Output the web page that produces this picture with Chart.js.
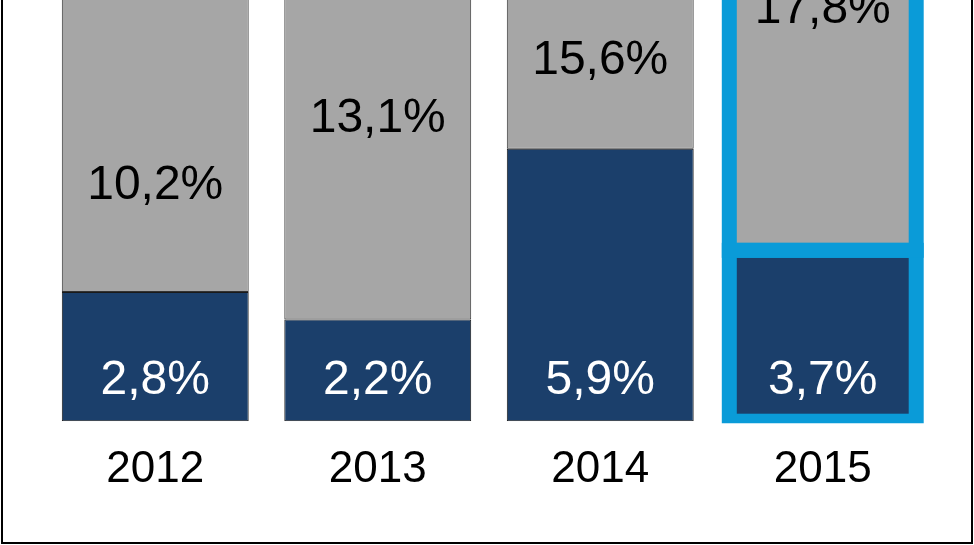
<!DOCTYPE html>
<html>
<head>
<meta charset="utf-8">
<script src="https://cdn.jsdelivr.net/npm/chart.js@4"></script>
<style>
  html, body { margin: 0; padding: 0; background: #ffffff; overflow: hidden; }
  #wrap { position: relative; width: 974px; height: 545px; }
  canvas { display: block; }
</style>
</head>
<body>
<div id="wrap"><canvas id="c" width="974" height="545"></canvas></div>
<script>
// ---- data ----
const categories = ['2012', '2013', '2014', '2015'];
const darkValues = [2.8, 2.2, 5.9, 3.7];
const grayValues = [10.2, 13.1, 15.6, 17.8];
// value (in % units on the y scale) at which each grey label is centred
const grayLabelAt = [5.09, 6.54, 7.81, 8.90];
const highlightIndex = 3;
const yMax = 9.12;

// ---- styles ----
const NAVY = '#1B3F6B';
const GREY = '#A6A6A6';
const HILITE = '#0A9BD8';
const FONT = '"Liberation Sans", Arial, sans-serif';

const fmt = v => v.toFixed(1).replace('.', ',') + '%';

const highlightPlugin = {
  id: 'highlight',
  afterDatasetsDraw(chart) {
    const ctx = chart.ctx;
    const area = chart.chartArea;
    ctx.save();
    ctx.beginPath();
    ctx.rect(0, 0, chart.width, area.bottom + 2);
    ctx.clip();
    ctx.strokeStyle = HILITE;
    ctx.lineWidth = 15;
    chart.data.datasets.forEach((ds, di) => {
      const el = chart.getDatasetMeta(di).data[highlightIndex];
      if (!el) return;
      const p = el.getProps(['x', 'y', 'base', 'width'], true);
      const left = p.x - p.width / 2;
      const top = Math.min(p.y, p.base);
      const h = Math.abs(p.base - p.y);
      ctx.strokeRect(left, top, p.width, h);
    });
    ctx.restore();
  }
};

const labelPlugin = {
  id: 'barLabels',
  afterDatasetsDraw(chart) {
    const ctx = chart.ctx;
    const yScale = chart.scales.y;
    ctx.save();
    ctx.font = '48px ' + FONT;
    ctx.textAlign = 'center';
    ctx.textBaseline = 'middle';
    const darkMeta = chart.getDatasetMeta(0);
    const greyMeta = chart.getDatasetMeta(1);
    darkMeta.data.forEach((el, i) => {
      const p = el.getProps(['x', 'base'], true);
      ctx.fillStyle = '#ffffff';
      ctx.fillText(fmt(darkValues[i]), p.x, p.base - 40);
    });
    greyMeta.data.forEach((el, i) => {
      const p = el.getProps(['x'], true);
      ctx.fillStyle = '#000000';
      ctx.fillText(fmt(grayValues[i]), p.x, yScale.getPixelForValue(grayLabelAt[i]));
    });
    ctx.restore();
  }
};

const framePlugin = {
  id: 'frame',
  afterDraw(chart) {
    const ctx = chart.ctx;
    ctx.save();
    ctx.strokeStyle = '#000000';
    ctx.lineWidth = 2;
    ctx.beginPath();
    ctx.moveTo(2, 0);
    ctx.lineTo(2, chart.height - 2);
    ctx.lineTo(chart.width - 2, chart.height - 2);
    ctx.lineTo(chart.width - 2, 0);
    ctx.stroke();
    ctx.restore();
  }
};

const borderCols = (normal) => categories.map((_, i) => i === highlightIndex ? 'rgba(0,0,0,0)' : normal);
const borderWidths = categories.map((_, i) => i === highlightIndex ? 0 : 1);

new Chart(document.getElementById('c'), {
  type: 'bar',
  data: {
    labels: categories,
    datasets: [
      {
        label: 'dark',
        data: darkValues,
        backgroundColor: NAVY,
        borderColor: borderCols('#1a1a1a'),
        borderWidth: borderWidths,
        borderSkipped: false,
        barPercentage: 0.84,
        categoryPercentage: 1.0
      },
      {
        label: 'grey',
        data: grayValues,
        backgroundColor: GREY,
        borderColor: borderCols('#333333'),
        borderWidth: borderWidths,
        borderSkipped: false,
        barPercentage: 0.84,
        categoryPercentage: 1.0
      }
    ]
  },
  options: {
    responsive: false,
    animation: false,
    devicePixelRatio: 1,
    layout: { padding: { left: 44, right: 40, top: 0, bottom: 27 } },
    plugins: {
      legend: { display: false },
      tooltip: { enabled: false },
      title: { display: false }
    },
    scales: {
      x: {
        stacked: true,
        grid: { display: false, drawTicks: false },
        border: { display: false },
        ticks: {
          color: '#000000',
          font: { family: FONT, size: 44 },
          padding: 22,
          maxRotation: 0,
          autoSkip: false
        }
      },
      y: {
        stacked: true,
        display: false,
        min: 0,
        max: yMax
      }
    }
  },
  plugins: [highlightPlugin, labelPlugin, framePlugin]
});
</script>
</body>
</html>
